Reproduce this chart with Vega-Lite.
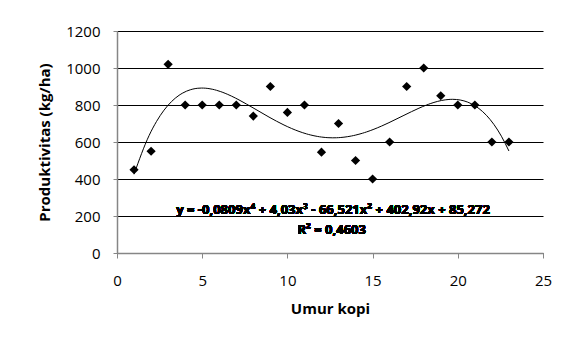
{
  "$schema": "https://vega.github.io/schema/vega-lite/v6.json",
  "width": 426,
  "height": 222,
  "autosize": {"type": "none"},
  "padding": {"left": 117, "top": 31, "right": 18, "bottom": 89},
  "background": "white",
  "config": {
    "view": {"stroke": null},
    "font": "Open Sans",
    "axis": {"labelFont": "Open Sans", "titleFont": "Open Sans", "labelColor": "#000", "titleColor": "#000"}
  },
  "data": {"values": [
    {"umur": 1, "prod": 450}, {"umur": 2, "prod": 550}, {"umur": 3, "prod": 1020},
    {"umur": 4, "prod": 800}, {"umur": 5, "prod": 800}, {"umur": 6, "prod": 800},
    {"umur": 7, "prod": 800}, {"umur": 8, "prod": 740}, {"umur": 9, "prod": 900},
    {"umur": 10, "prod": 760}, {"umur": 11, "prod": 800}, {"umur": 12, "prod": 545},
    {"umur": 13, "prod": 700}, {"umur": 14, "prod": 500}, {"umur": 15, "prod": 400},
    {"umur": 16, "prod": 600}, {"umur": 17, "prod": 900}, {"umur": 18, "prod": 1000},
    {"umur": 19, "prod": 850}, {"umur": 20, "prod": 800}, {"umur": 21, "prod": 800},
    {"umur": 22, "prod": 600}, {"umur": 23, "prod": 600}
  ]},
  "encoding": {
    "x": {"field": "umur", "type": "quantitative",
      "scale": {"domain": [0, 25], "nice": false, "zero": false},
      "axis": {"title": "Umur kopi", "values": [0, 5, 10, 15, 20, 25], "grid": false, "format": "d",
        "domainColor": "#868686", "domainWidth": 1.5, "tickColor": "#868686", "tickSize": 5,
        "labelFontSize": 15, "labelPadding": 15, "labelFlush": false,
        "titleFontSize": 15, "titleFontWeight": "bold", "titlePadding": 13}},
    "y": {"field": "prod", "type": "quantitative",
      "scale": {"domain": [0, 1200], "nice": false},
      "axis": {"title": "Produktivitas (kg/ha)", "values": [0, 200, 400, 600, 800, 1000, 1200], "format": "d",
        "grid": true, "gridColor": "#000", "gridOpacity": 1, "gridWidth": 1,
        "domainColor": "#868686", "domainWidth": 1.5, "tickColor": "#868686", "tickSize": 4,
        "labelFontSize": 15, "labelPadding": 13,
        "titleFontSize": 15, "titleFontWeight": "bold", "titlePadding": 13}}
  },
  "layer": [
    {
      "transform": [{"regression": "prod", "on": "umur", "method": "poly", "order": 4}],
      "mark": {"type": "line", "color": "#000", "strokeWidth": 1, "interpolate": "monotone"}
    },
    {
      "mark": {"type": "point", "shape": "diamond", "filled": true, "color": "#000", "opacity": 1, "size": 85}
    },
    {
      "mark": {"type": "text", "text": "y = -0,0809x⁴ + 4,03x³ - 66,521x² + 402,92x + 85,272", "fontSize": 13, "fontWeight": "bold", "color": "#000", "align": "center", "baseline": "alphabetic"},
      "encoding": {"x": {"datum": 12.68}, "y": {"datum": 210}}
    },
    {
      "mark": {"type": "text", "text": "R² = 0,4603", "fontSize": 13, "fontWeight": "bold", "color": "#000", "align": "center", "baseline": "alphabetic"},
      "encoding": {"x": {"datum": 12.6}, "y": {"datum": 103}}
    }
  ]
}
